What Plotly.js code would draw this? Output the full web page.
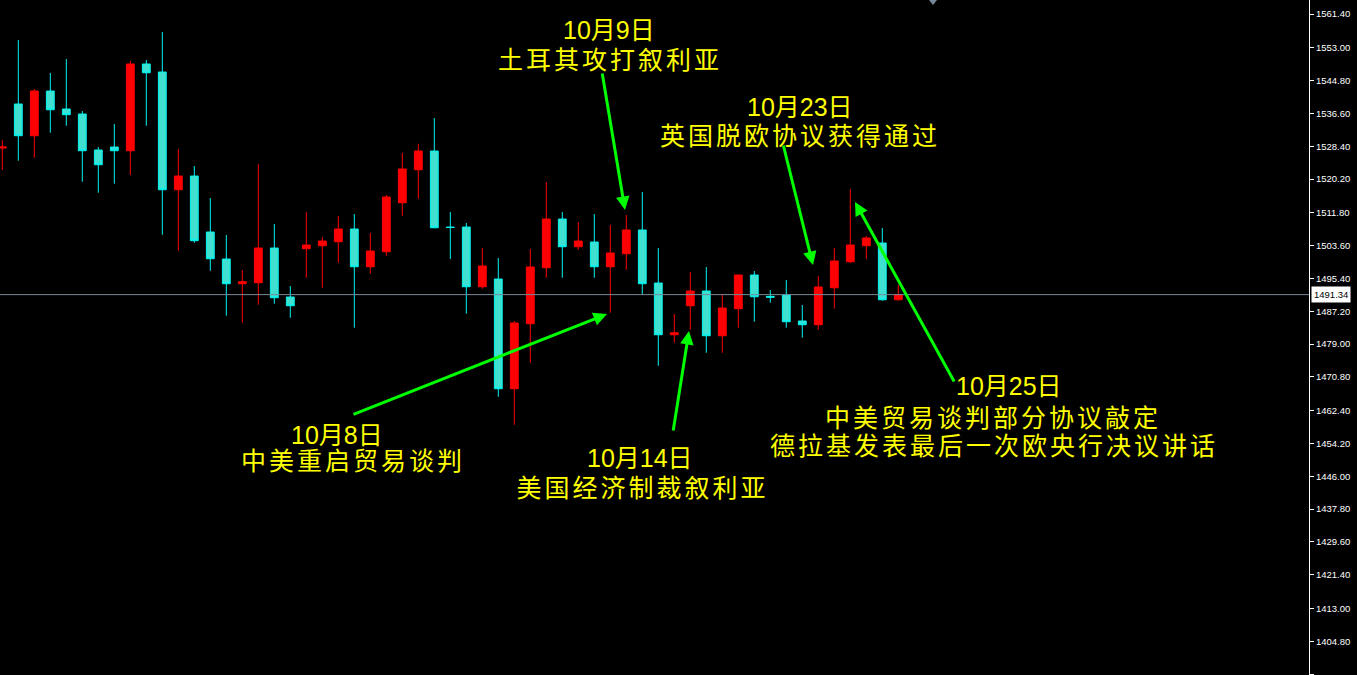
<!DOCTYPE html>
<html>
<head>
<meta charset="utf-8">
<script src="https://cdn.plot.ly/plotly-3.0.1.min.js"></script>
<style>
html,body{margin:0;padding:0;background:#000;}
#chart{width:1357px;height:675px;}
</style>
</head>
<body>
<div id="chart"></div>
<script>
// ---- data ----
const barIndex = [0,1,2,3,4,5,6,7,8,9,10,11,12,13,14,15,16,17,18,19,20,21,22,23,24,25,26,27,28,29,30,31,32,33,34,35,36,37,38,39,40,41,42,43,44,45,46,47,48,49,50,51,52,53,54,55,56];
const openPrices  = [1527.94,1538.93,1531.01,1542.17,1537.68,1536.43,1527.44,1528.19,1527.27,1548.92,1546.92,1517.53,1520.95,1506.97,1500.23,1494.06,1494.31,1502.97,1490.74,1502.80,1503.55,1504.55,1507.72,1498.30,1502.05,1514.28,1522.52,1527.19,1508.20,1508.22,1493.31,1495.23,1467.84,1484.07,1498.05,1510.21,1503.30,1504.47,1498.30,1501.55,1507.47,1494.23,1481.32,1488.56,1492.24,1481.07,1487.82,1496.23,1490.90,1491.24,1484.75,1483.82,1493.06,1499.55,1503.55,1504.22,1490.06];
const highPrices  = [1529.94,1554.91,1542.67,1546.67,1550.16,1537.18,1528.19,1533.93,1549.66,1549.91,1556.91,1527.69,1523.45,1515.46,1506.22,1497.48,1523.95,1508.97,1493.48,1511.96,1505.72,1510.96,1511.46,1506.72,1516.21,1526.69,1529.01,1535.43,1511.96,1509.22,1502.97,1500.48,1484.75,1502.72,1519.45,1511.96,1509.46,1511.46,1508.72,1511.21,1516.96,1502.97,1486.49,1496.98,1498.23,1491.49,1496.30,1497.23,1492.49,1494.98,1488.74,1495.98,1502.97,1517.70,1505.97,1507.97,1493.73];
const lowPrices   = [1522.45,1524.77,1525.52,1531.76,1533.51,1519.53,1516.78,1519.03,1521.20,1533.51,1506.29,1502.30,1504.30,1497.30,1486.07,1484.32,1488.82,1489.06,1485.57,1495.56,1493.06,1499.30,1483.07,1496.56,1501.05,1511.04,1515.28,1507.90,1500.23,1486.57,1492.81,1465.84,1458.85,1474.33,1495.56,1495.56,1502.55,1495.56,1486.82,1497.55,1491.31,1473.58,1479.33,1482.57,1476.83,1476.83,1483.07,1484.57,1489.31,1483.07,1480.58,1482.57,1487.82,1499.23,1500.23,1489.81,1489.81];
const closePrices = [1528.19,1531.01,1542.17,1537.50,1536.26,1527.27,1523.77,1527.27,1548.92,1546.74,1517.53,1520.95,1504.80,1500.30,1494.06,1494.56,1502.97,1490.56,1488.56,1503.72,1504.72,1507.72,1498.30,1502.22,1515.71,1522.70,1527.19,1508.04,1508.10,1493.31,1498.48,1467.84,1484.25,1498.23,1510.21,1503.30,1504.72,1498.30,1501.72,1507.47,1494.06,1481.32,1481.82,1492.24,1481.07,1487.99,1496.23,1490.81,1490.70,1484.57,1483.82,1493.24,1499.73,1503.72,1505.47,1490.06,1491.34];
const currentPrice = 1491.34;
const yTickValues = [1561.40,1553.00,1544.80,1536.60,1528.40,1520.20,1511.80,1503.60,1495.40,1487.20,1479.00,1470.80,1462.40,1454.20,1446.00,1437.80,1429.60,1421.40,1413.00,1404.80,1396.60];
const yTickLabels = yTickValues.map(v => v.toFixed(2));

// annotations: text lines with centre positions in pixels
const eventNotes = [
  {lines:["10月9日","土耳其攻打叙利亚"], x:[609,610], y:[30,60]},
  {lines:["10月23日","英国脱欧协议获得通过"], x:[800,800], y:[107,136]},
  {lines:["10月8日","中美重启贸易谈判"], x:[337,353], y:[435,461]},
  {lines:["10月14日","美国经济制裁叙利亚"], x:[640,642], y:[458,488]},
  {lines:["10月25日","中美贸易谈判部分协议敲定","德拉基发表最后一次欧央行决议讲话"], x:[1009,993,994], y:[386,418,446]}
];
// arrows: tail -> head in pixels
const eventArrows = [
  {tail:[352,415], head:[607,314]},
  {tail:[602,72],  head:[625,210]},
  {tail:[673,432], head:[689,331]},
  {tail:[783,144], head:[813,265]},
  {tail:[955,383], head:[855,202]}
];

// ---- layout ----
const W = 1357, H = 675, plotW = 1309;
const px2paperX = x => x / plotW;
const px2paperY = y => 1 - y / H;
const UP = '#FF0000', DOWN_FILL = '#40E0D0', DOWN_LINE = '#00F5F0';

const trace = {
  type: 'candlestick',
  x: barIndex, open: openPrices, high: highPrices, low: lowPrices, close: closePrices,
  increasing: {line: {color: UP, width: 1}, fillcolor: UP},
  decreasing: {line: {color: DOWN_LINE, width: 1}, fillcolor: DOWN_FILL},
  whiskerwidth: 0,
  hoverinfo: 'skip'
};

const annotations = [];
eventNotes.forEach(n => {
  n.lines.forEach((t, k) => {
    annotations.push({
      xref: 'paper', yref: 'paper', x: px2paperX(n.x[k]), y: px2paperY(n.y[k]),
      xanchor: 'center', yanchor: 'middle', showarrow: false, text: t,
      font: {family: 'Liberation Sans, Noto Sans CJK SC, sans-serif', size: 25, color: '#FFFF00'}
    });
  });
});
eventArrows.forEach(a => {
  annotations.push({
    xref: 'paper', yref: 'paper', x: px2paperX(a.head[0]), y: px2paperY(a.head[1]),
    axref: 'pixel', ayref: 'pixel', ax: a.tail[0] - a.head[0], ay: a.tail[1] - a.head[1],
    showarrow: true, text: '', arrowcolor: '#00FF00', arrowwidth: 3, arrowhead: 2, arrowsize: 0.9, standoff: 0
  });
});
annotations.push({
  xref: 'paper', yref: 'y', x: 1, y: currentPrice, xanchor: 'left', yanchor: 'middle', xshift: 2,
  showarrow: false, text: currentPrice.toFixed(2), bgcolor: '#FFFFFF', borderpad: 2,
  font: {family: 'Liberation Sans, sans-serif', size: 9.5, color: '#000000'}
});

const layout = {
  width: W, height: H,
  margin: {l: 0, r: W - plotW, t: 0, b: 0, pad: 0},
  paper_bgcolor: '#000000', plot_bgcolor: '#000000',
  showlegend: false, hovermode: false,
  xaxis: {range: [-0.144, 81.67], visible: false, rangeslider: {visible: false}, fixedrange: true},
  yaxis: {
    side: 'right', range: [1396.36, 1564.9], tickmode: 'array', tickvals: yTickValues, ticktext: yTickLabels,
    showgrid: false, zeroline: false, showline: true, linecolor: '#FFFFFF', linewidth: 1,
    ticks: 'outside', ticklen: 4, tickcolor: '#FFFFFF', tickfont: {family: 'Liberation Sans, sans-serif', size: 9.5, color: '#FFFFFF'},
    fixedrange: true
  },
  shapes: [
    {type: 'line', xref: 'paper', yref: 'y', x0: 0, x1: 1, y0: currentPrice, y1: currentPrice, line: {color: '#778899', width: 1}},
    {type: 'path', xref: 'paper', yref: 'paper', path: `M ${px2paperX(929)} 1 L ${px2paperX(937)} 1 L ${px2paperX(933)} ${px2paperY(5)} Z`, fillcolor: '#778899', line: {width: 0}}
  ],
  annotations: annotations
};

Plotly.newPlot('chart', [trace], layout, {displayModeBar: false, staticPlot: true}).then(() => {
  document.querySelectorAll('.annotation-text').forEach(el => {
    if (/[\u4e00-\u9fff]{3,}/.test(el.textContent)) el.style.letterSpacing = '3px';
  });
});
</script>
</body>
</html>
